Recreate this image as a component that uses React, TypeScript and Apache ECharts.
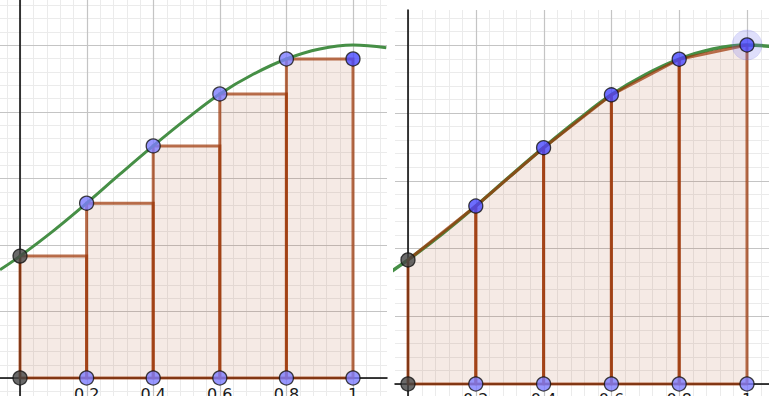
import React, { useEffect, useRef } from 'react';
import * as echarts from 'echarts';

// Partition nodes and function values
const nodeX = [0, 0.2, 0.4, 0.6, 0.8, 1];
const nodeY = [0.366, 0.525, 0.697, 0.853, 0.958, 1.0];

// Sampled curve f(x)
const curveX = [-0.06, 0, 0.1, 0.2, 0.3, 0.4, 0.5, 0.6, 0.7, 0.8, 0.9, 1.0, 1.1];
const curveY = [0.325, 0.366, 0.442, 0.525, 0.612, 0.697, 0.778, 0.853, 0.912, 0.958, 0.988, 1.0, 0.992];

// x-axis tick labels
const xTickValues = [0.2, 0.4, 0.6, 0.8, 1];
const xTickLabels = ['0.2', '0.4', '0.6', '0.8', '1'];

// Colours
const GRID_MAJOR = '#c4c4c4';
const GRID_MINOR = '#ebebeb';
const FILL = 'rgba(153,51,0,0.1)';
const EDGE = 'rgba(158,56,8,0.72)';
const GREEN = '#468f46';
const PT_LIGHT = '#7d7dff';
const PT_DARK = '#4848ff';
const PT_GREY = '#454545';

// Panel extents (axis units)
const L = { xmin: -0.0601, xmax: 1.1021, ymin: -0.0541, ymax: 1.1351 };
const R = { xmin: -0.0383, xmax: 1.0649, ymin: -0.0354, ymax: 1.1032 };

function gridData(ext: { xmin: number; xmax: number; ymin: number; ymax: number }) {
  const out: number[][] = [];
  for (let k = -5; k <= 32; k++) {
    const v = Math.round(k * 4) / 100;
    const major = k % 5 === 0 ? 1 : 0;
    if (v > ext.xmin + 1e-6 && v < ext.xmax - 1e-6) out.push([v, major, 0]);
    if (v > ext.ymin + 1e-6 && v < ext.ymax - 1e-6) out.push([v, major, 1]);
  }
  out.sort((a, b) => a[1] - b[1]);
  return out;
}

const gridRender = (params: any, api: any) => {
  const v = api.value(0);
  const major = api.value(1);
  const dir = api.value(2);
  const cs = params.coordSys;
  const style = { stroke: major ? GRID_MAJOR : GRID_MINOR, lineWidth: major ? 1.2 : 1 };
  if (dir === 0) {
    const px = Math.round(api.coord([v, 0])[0]) + 0.5;
    return { type: 'line', shape: { x1: px, y1: cs.y, x2: px, y2: cs.y + cs.height }, style };
  }
  const py = Math.round(api.coord([0, v])[1]) + 0.5;
  return { type: 'line', shape: { x1: cs.x, y1: py, x2: cs.x + cs.width, y2: py }, style };
};

const rectRender = (params: any, api: any) => {
  const x0 = api.value(0);
  const x1 = api.value(1);
  const h = api.value(2);
  const p0 = api.coord([x0, h]);
  const p1 = api.coord([x1, 0]);
  return {
    type: 'rect',
    shape: { x: p0[0], y: p0[1], width: p1[0] - p0[0], height: p1[1] - p0[1] },
    style: { fill: FILL, stroke: EDGE, lineWidth: 3 },
  };
};

const trapRender = (params: any, api: any) => {
  const x0 = api.value(0);
  const x1 = api.value(1);
  const y0 = api.value(2);
  const y1 = api.value(3);
  return {
    type: 'polygon',
    shape: {
      points: [api.coord([x0, 0]), api.coord([x0, y0]), api.coord([x1, y1]), api.coord([x1, 0])],
    },
    style: { fill: FILL, stroke: EDGE, lineWidth: 3, lineJoin: 'round' },
  };
};

const labelFormatter = (val: number) => {
  for (let i = 0; i < xTickValues.length; i++) {
    if (Math.abs(val - xTickValues[i]) < 1e-6) return xTickLabels[i];
  }
  return '';
};

function makeXAxis(idx: number, ext: any, margin: number) {
  return {
    gridIndex: idx,
    type: 'value',
    min: ext.xmin,
    max: ext.xmax,
    z: 1,
    axisLine: { onZero: true, lineStyle: { color: '#000', width: 1.5 } },
    axisTick: { show: false },
    splitLine: { show: false },
    axisLabel: {
      formatter: labelFormatter,
      margin,
      color: '#1a1a1a',
      fontSize: 16,
      fontFamily: 'DejaVu Sans',
    },
  };
}

function makeYAxis(idx: number, ext: any) {
  return {
    gridIndex: idx,
    type: 'value',
    min: ext.ymin,
    max: ext.ymax,
    z: 1,
    axisLine: { onZero: true, lineStyle: { color: '#000', width: 1.5 } },
    axisTick: { show: false },
    splitLine: { show: false },
    axisLabel: { show: false },
  };
}

const pointStyle = (color: string) => ({ color, borderColor: '#111', borderWidth: 1.3 });

export default function App() {
  const ref = useRef<HTMLDivElement>(null);

  useEffect(() => {
    document.body.style.margin = '0';
    if (!ref.current) return;
    const chart = echarts.init(ref.current, null, { renderer: 'svg' });

    const curve = curveX.map((x, i) => [x, curveY[i]]);
    const leftRects = nodeX.slice(0, -1).map((x, i) => [x, nodeX[i + 1], nodeY[i]]);
    const traps = nodeX.slice(0, -1).map((x, i) => [x, nodeX[i + 1], nodeY[i], nodeY[i + 1]]);
    const bottomPts = nodeX.slice(1).map((x) => [x, 0]);
    const greyPts = [[0, 0], [0, nodeY[0]]];
    const leftTopPts = nodeX.slice(1, -1).map((x, i) => [x, nodeY[i + 1]]);
    const leftCornerPt = [[nodeX[nodeX.length - 1], nodeY[nodeY.length - 2]]];
    const rightTopPts = nodeX.slice(1).map((x, i) => [x, nodeY[i + 1]]);
    const haloPt = [[nodeX[nodeX.length - 1], nodeY[nodeY.length - 1]]];

    const scatter = (gi: number, data: number[][], color: string, z: number, size = 14) => ({
      type: 'scatter',
      xAxisIndex: gi,
      yAxisIndex: gi,
      data,
      symbolSize: size,
      itemStyle: pointStyle(color),
      z,
      silent: true,
    });

    chart.setOption({
      animation: false,
      grid: [
        { left: 0, top: 0, width: 387, height: 396, outerBoundsMode: 'none', containLabel: false },
        { left: 395, top: 10, width: 374, height: 386, outerBoundsMode: 'none', containLabel: false },
      ],
      xAxis: [makeXAxis(0, L, -10), makeXAxis(1, R, -5)],
      yAxis: [makeYAxis(0, L), makeYAxis(1, R)],
      series: [
        // ---------- left panel ----------
        { type: 'custom', xAxisIndex: 0, yAxisIndex: 0, data: gridData(L), renderItem: gridRender, z: 0, silent: true },
        { type: 'custom', xAxisIndex: 0, yAxisIndex: 0, data: leftRects, renderItem: rectRender, z: 2, silent: true },
        {
          type: 'line',
          xAxisIndex: 0,
          yAxisIndex: 0,
          data: curve,
          smooth: 0.4,
          symbol: 'none',
          lineStyle: { color: GREEN, width: 3 },
          z: 3,
          silent: true,
        },
        scatter(0, greyPts, PT_GREY, 4),
        scatter(0, bottomPts, PT_LIGHT, 4),
        scatter(0, leftTopPts, PT_LIGHT, 4),
        scatter(0, leftCornerPt, PT_DARK, 4),
        // ---------- right panel ----------
        { type: 'custom', xAxisIndex: 1, yAxisIndex: 1, data: gridData(R), renderItem: gridRender, z: 0, silent: true },
        {
          type: 'line',
          xAxisIndex: 1,
          yAxisIndex: 1,
          data: curve,
          smooth: 0.4,
          symbol: 'none',
          lineStyle: { color: GREEN, width: 3.5 },
          z: 2,
          silent: true,
        },
        { type: 'custom', xAxisIndex: 1, yAxisIndex: 1, data: traps, renderItem: trapRender, z: 3, silent: true },
        {
          type: 'scatter',
          xAxisIndex: 1,
          yAxisIndex: 1,
          data: haloPt,
          symbolSize: 30,
          itemStyle: { color: 'rgba(110,110,235,0.28)', borderColor: 'rgba(110,110,235,0.2)', borderWidth: 1 },
          z: 4,
          silent: true,
        },
        scatter(1, greyPts, PT_GREY, 5),
        scatter(1, bottomPts, PT_LIGHT, 5),
        scatter(1, rightTopPts, PT_DARK, 5),
      ],
    });

    return () => chart.dispose();
  }, []);

  return <div ref={ref} style={{ width: 769, height: 396 }} />;
}
